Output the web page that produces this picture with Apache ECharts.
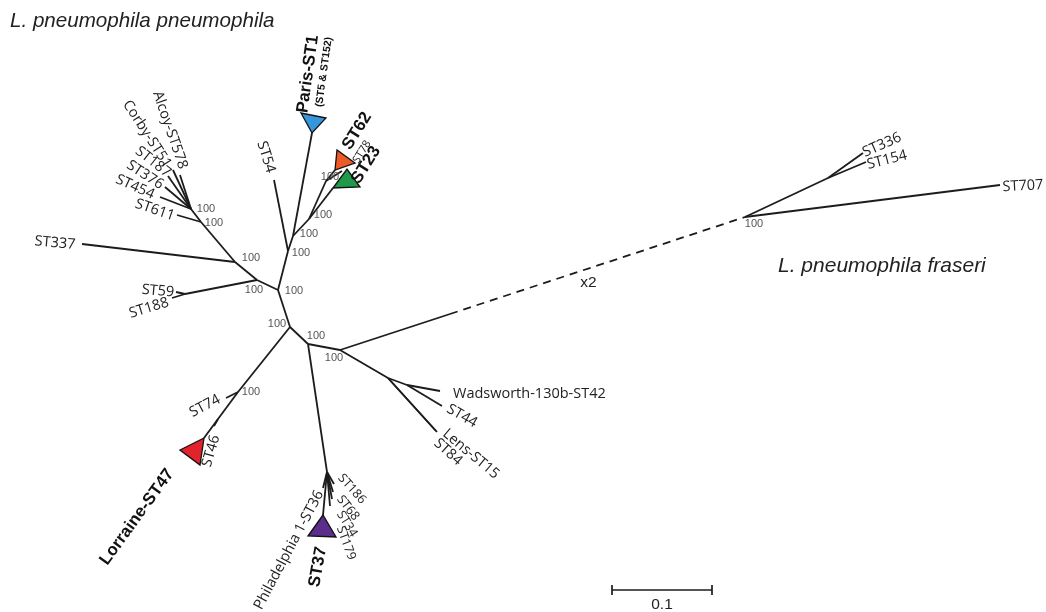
<!DOCTYPE html>
<html>
<head>
<meta charset="utf-8">
<script src="https://cdn.jsdelivr.net/npm/echarts@6/dist/echarts.min.js"></script>
<style>
  html, body { margin: 0; padding: 0; background: #fff; }
  #chart { width: 1046px; height: 612px; }
</style>
</head>
<body>
<div id="chart"></div>
<script>
// Unrooted tree. Node positions are in units of 0.001 substitutions/site,
// measured from the central node (x to the right, y upwards).
const nodeNames = [
  'A', 'B', 'F', 'P', 'ST59', 'ST188', 'G', 'ST337', 'H1', 'ST611', 'H2',
  'ST454', 'ST376', 'ST187', 'Corby-ST51', 'Alcoy-ST578',
  'J', 'ST54', 'K', 'Paris-ST1', 'L', 'Q', 'ST62', 'ST78', 'ST23',
  'C', 'R', 'Philadelphia 1-ST36', 'ST186', 'ST68', 'ST34', 'ST179', 'ST37',
  'S', 'ST74', 'E', 'ST46', 'Lorraine-ST47',
  'D', 'T', 'U', 'ST707', 'V', 'ST336', 'ST154',
  'M', 'N', 'Wadsworth-130b-ST42', 'ST44', 'Lens-ST15', 'ST84'
];
const nodeX = [
  0, -12, -33, -105, -114, -118, -55, -208, -89, -113, -99,
  -130, -125, -122, -117, -110,
  -2, -16, 3, 22, 19, 36, 45, 52, 43,
  18, 37, 33, 44, 43, 42, 40, 33,
  -52, -64, -72, -76, -86,
  50, 160, 455, 710, 538, 573, 576,
  98, 117, 150, 152, 147, 146
];
const nodeY = [
  0, 37, 47, 33, 35, 29, 65, 83, 105, 112, 118,
  130, 140, 151, 157, 152,
  76, 147, 91, 194, 108, 146, 157, 156, 139,
  -17, -145, -161, -157, -165, -172, -179, -188,
  -65, -71, -92, -99, -111,
  -23, 13, 110, 142, 149, 174, 165,
  -51, -58, -64, -79, -105, -104
];

// Branches (parent -> child)
const edgeParent = [
  'A', 'B', 'F', 'P', 'P', 'F', 'G', 'G', 'H1', 'H1', 'H2', 'H2', 'H2', 'H2', 'H2',
  'B', 'J', 'J', 'K', 'K', 'L', 'Q', 'Q', 'L',
  'A', 'C', 'R', 'R', 'R', 'R', 'R', 'R',
  'A', 'S', 'S', 'E', 'E',
  'C', 'D', 'T', 'U', 'U', 'V', 'V',
  'D', 'M', 'N', 'N', 'M', 'M'
];
const edgeChild = [
  'B', 'F', 'P', 'ST59', 'ST188', 'G', 'ST337', 'H1', 'ST611', 'H2', 'ST454', 'ST376', 'ST187', 'Corby-ST51', 'Alcoy-ST578',
  'J', 'ST54', 'K', 'Paris-ST1', 'L', 'Q', 'ST62', 'ST78', 'ST23',
  'C', 'R', 'Philadelphia 1-ST36', 'ST186', 'ST68', 'ST34', 'ST179', 'ST37',
  'S', 'ST74', 'E', 'ST46', 'Lorraine-ST47',
  'D', 'T', 'U', 'ST707', 'V', 'ST336', 'ST154',
  'M', 'N', 'Wadsworth-130b-ST42', 'ST44', 'Lens-ST15', 'ST84'
];
// Branch drawn at half length (dashed, "x2")
const compressedBranches = ['U'];

// Collapsed clades: apex node plus the two far corners of the triangle
const cladeApex = ['Paris-ST1', 'ST62', 'ST23', 'ST37', 'Lorraine-ST47'];
const cladeCornerAX = [11, 47, 57, 18, -110];
const cladeCornerAY = [214, 177, 158, -209, -123];
const cladeCornerBX = [36, 65, 70, 46, -90];
const cladeCornerBY = [209, 164, 140, -210, -138];

// Bootstrap support
const supportNodes = ['H2', 'H1', 'G', 'F', 'B', 'A', 'C', 'D', 'S', 'J', 'K', 'L', 'Q', 'U'];
const supportValues = [100, 100, 100, 100, 100, 100, 100, 100, 100, 100, 100, 100, 100, 100];

// Scale bar
const scaleBarValue = 0.1;
const unitsPerSubstitution = 1000;

// ---------- styles and label placement ----------
const cladeColors = {
  'Paris-ST1': '#3596dc',
  'ST62': '#ee5a26',
  'ST23': '#1f9a4b',
  'ST37': '#5b2d8c',
  'Lorraine-ST47': '#e2232b'
};

// [dx px, dy px, rotation deg, align]
const leafLabelLayout = {
  'ST611': [-22, -5, -19],
  'ST454': [-25, -10, -24],
  'ST376': [-20, -12, -33],
  'ST187': [-15, -14, -38],
  'Corby-ST51': [-26, -36, -57],
  'Alcoy-ST578': [-10, -45, -71],
  'ST337': [-27, -1, -5],
  'ST59': [-18, -1, -5],
  'ST188': [-23, 10, 17],
  'ST54': [-8, -23, -73],
  'ST78': [20, -19, 58],
  'Philadelphia 1-ST36': [-34, 62, 62],
  'ST186': [18, 5, -48],
  'ST68': [15, 16, -52],
  'ST34': [15, 25, -58],
  'ST179': [16, 37, -70],
  'ST74': [-21, 8, 28],
  'ST46': [-3, 25, 74],
  'Wadsworth-130b-ST42': [13, 3, 0, 'left'],
  'ST44': [20, 10, -30],
  'Lens-ST15': [34, 22, -40],
  'ST84': [12, 21, -42],
  'ST336': [19, -8, 24],
  'ST154': [21, -2, 14],
  'ST707': [23, 1, 3]
};
const smallLabels = { 'ST78': 11, 'ST186': 12.5, 'ST68': 12.5, 'ST34': 12.5, 'ST179': 12.5 };

const cladeLabelLayout = [
  // text, anchor, dx, dy, rotation, size
  ['Paris-ST1', 'Paris-ST1', -4, -59, 82, 17],
  ['(ST5 & ST152)', 'Paris-ST1', 12, -61, 82, 10.5],
  ['ST62', 'ST62', 22, -39, 58, 17],
  ['ST23', 'ST23', 33, -23, 58, 17],
  ['ST37', 'ST37', -5, 52, 80, 17],
  ['Lorraine-ST47', 'Lorraine-ST47', -67, 79, 54, 17]
];
const supportOffset = {
  'H2': [15, 0], 'H1': [13, 1], 'G': [16, -4], 'F': [-3, 10], 'B': [16, 1],
  'A': [-13, -3], 'C': [8, -8], 'D': [-6, 8], 'S': [13, 0], 'J': [13, 2],
  'K': [16, -2], 'L': [14, -4], 'Q': [4, -4], 'U': [9, 7]
};
const scaleBarStart = [322, -263];

const LEAF_FONT = '"Open Sans", "Liberation Sans", sans-serif';
const BOLD_FONT = '"Liberation Sans", Arial, sans-serif';
const LINE_COLOR = '#1c1c1c';
const LEAF_SIZE = 14.5;

// ---------- derived data ----------
const pos = {};
nodeNames.forEach((n, i) => { pos[n] = [nodeX[i], nodeY[i]]; });

const edgeData = edgeParent.map((p, i) => {
  const c = edgeChild[i];
  return [pos[p][0], pos[p][1], pos[c][0], pos[c][1], compressedBranches.indexOf(c) >= 0 ? 1 : 0];
});

const cladeData = cladeApex.map((n, i) => [
  pos[n][0], pos[n][1], cladeCornerAX[i], cladeCornerAY[i], cladeCornerBX[i], cladeCornerBY[i], i
]);

const leafNames = Object.keys(leafLabelLayout);
const leafData = leafNames.map((n, i) => [pos[n][0], pos[n][1], i]);
const cladeLabelData = cladeLabelLayout.map((l, i) => [pos[l[1]][0], pos[l[1]][1], i]);
const supportData = supportNodes.map((n, i) => [pos[n][0], pos[n][1], i]);

const chart = echarts.init(document.getElementById('chart'), null, { renderer: 'canvas' });

chart.setOption({
  animation: false,
  backgroundColor: '#ffffff',
  grid: { left: 0, right: 0, top: 0, bottom: 0, containLabel: false },
  xAxis: { type: 'value', min: -290, max: 756, show: false },
  yAxis: { type: 'value', min: -285, max: 327, show: false },
  graphic: [
    { type: 'text', left: 10, top: 11, silent: true,
      style: { text: 'L. pneumophila pneumophila', fill: '#222', fontSize: 20.6, fontStyle: 'italic', fontFamily: BOLD_FONT } },
    { type: 'text', left: 778, top: 256, silent: true,
      style: { text: 'L. pneumophila fraseri', fill: '#222', fontSize: 21, fontStyle: 'italic', fontFamily: BOLD_FONT } }
  ],
  series: [
    {
      // branches
      type: 'custom', coordinateSystem: 'cartesian2d', silent: true, z: 2,
      encode: { x: [0, 2], y: [1, 3] },
      data: edgeData,
      renderItem(params, api) {
        const a = api.coord([api.value(0), api.value(1)]);
        const b = api.coord([api.value(2), api.value(3)]);
        const style = { stroke: LINE_COLOR, lineWidth: 1.8 };
        if (api.value(4) === 1) style.lineDash = [8, 6];
        return { type: 'line', shape: { x1: a[0], y1: a[1], x2: b[0], y2: b[1] }, style: style };
      }
    },
    {
      // bootstrap values
      type: 'custom', coordinateSystem: 'cartesian2d', silent: true, z: 3,
      encode: { x: 0, y: 1 },
      data: supportData,
      renderItem(params, api) {
        const i = api.value(2);
        const p = api.coord([api.value(0), api.value(1)]);
        const o = supportOffset[supportNodes[i]];
        return { type: 'text', x: p[0] + o[0], y: p[1] + o[1],
          style: { text: String(supportValues[i]), fill: '#555', fontSize: 11, fontFamily: BOLD_FONT,
            align: 'center', verticalAlign: 'middle' } };
      }
    },
    {
      // leaf labels
      type: 'custom', coordinateSystem: 'cartesian2d', silent: true, z: 3,
      encode: { x: 0, y: 1 },
      data: leafData,
      renderItem(params, api) {
        const name = leafNames[api.value(2)];
        const l = leafLabelLayout[name];
        const p = api.coord([api.value(0), api.value(1)]);
        return { type: 'text', x: p[0] + l[0], y: p[1] + l[1], rotation: l[2] * Math.PI / 180,
          style: { text: name, fill: '#222', fontSize: smallLabels[name] || LEAF_SIZE, fontFamily: LEAF_FONT,
            align: l[3] || 'center', verticalAlign: 'middle' } };
      }
    },
    {
      // collapsed clades
      type: 'custom', coordinateSystem: 'cartesian2d', silent: true, z: 4,
      encode: { x: [0, 2, 4], y: [1, 3, 5] },
      data: cladeData,
      renderItem(params, api) {
        const pts = [
          api.coord([api.value(0), api.value(1)]),
          api.coord([api.value(2), api.value(3)]),
          api.coord([api.value(4), api.value(5)])
        ];
        return { type: 'polygon', shape: { points: pts },
          style: { fill: cladeColors[cladeApex[api.value(6)]], stroke: '#111', lineWidth: 1.3 } };
      }
    },
    {
      // clade labels
      type: 'custom', coordinateSystem: 'cartesian2d', silent: true, z: 5,
      encode: { x: 0, y: 1 },
      data: cladeLabelData,
      renderItem(params, api) {
        const l = cladeLabelLayout[api.value(2)];
        const p = api.coord([api.value(0), api.value(1)]);
        return { type: 'text', x: p[0] + l[2], y: p[1] + l[3], rotation: l[4] * Math.PI / 180,
          style: { text: l[0], fill: '#111', fontSize: l[5], fontWeight: 'bold', fontFamily: BOLD_FONT,
            align: 'center', verticalAlign: 'middle' } };
      }
    },
    {
      // "x2" on the compressed branch
      type: 'custom', coordinateSystem: 'cartesian2d', silent: true, z: 3,
      encode: { x: 0, y: 1 },
      data: [[pos['T'][0], pos['T'][1], pos['U'][0], pos['U'][1]]],
      renderItem(params, api) {
        const a = api.coord([api.value(0), api.value(1)]);
        const b = api.coord([api.value(2), api.value(3)]);
        return { type: 'text', x: (a[0] + b[0]) / 2 - 9, y: (a[1] + b[1]) / 2 + 17,
          style: { text: 'x2', fill: '#222', fontSize: 15.5, fontFamily: BOLD_FONT, align: 'center', verticalAlign: 'middle' } };
      }
    },
    {
      // scale bar
      type: 'custom', coordinateSystem: 'cartesian2d', silent: true, z: 3,
      encode: { x: 0, y: 1 },
      data: [[scaleBarStart[0], scaleBarStart[1], scaleBarValue * unitsPerSubstitution]],
      renderItem(params, api) {
        const a = api.coord([api.value(0), api.value(1)]);
        const b = api.coord([api.value(0) + api.value(2), api.value(1)]);
        const st = { stroke: LINE_COLOR, lineWidth: 1.7 };
        return { type: 'group', children: [
          { type: 'line', shape: { x1: a[0], y1: a[1], x2: b[0], y2: b[1] }, style: st },
          { type: 'line', shape: { x1: a[0], y1: a[1] - 5, x2: a[0], y2: a[1] + 5 }, style: st },
          { type: 'line', shape: { x1: b[0], y1: b[1] - 5, x2: b[0], y2: b[1] + 5 }, style: st },
          { type: 'text', x: (a[0] + b[0]) / 2, y: a[1] + 15,
            style: { text: String(scaleBarValue), fill: '#222', fontSize: 15.5, fontFamily: BOLD_FONT, align: 'center', verticalAlign: 'middle' } }
        ] };
      }
    }
  ]
});
</script>
</body>
</html>
